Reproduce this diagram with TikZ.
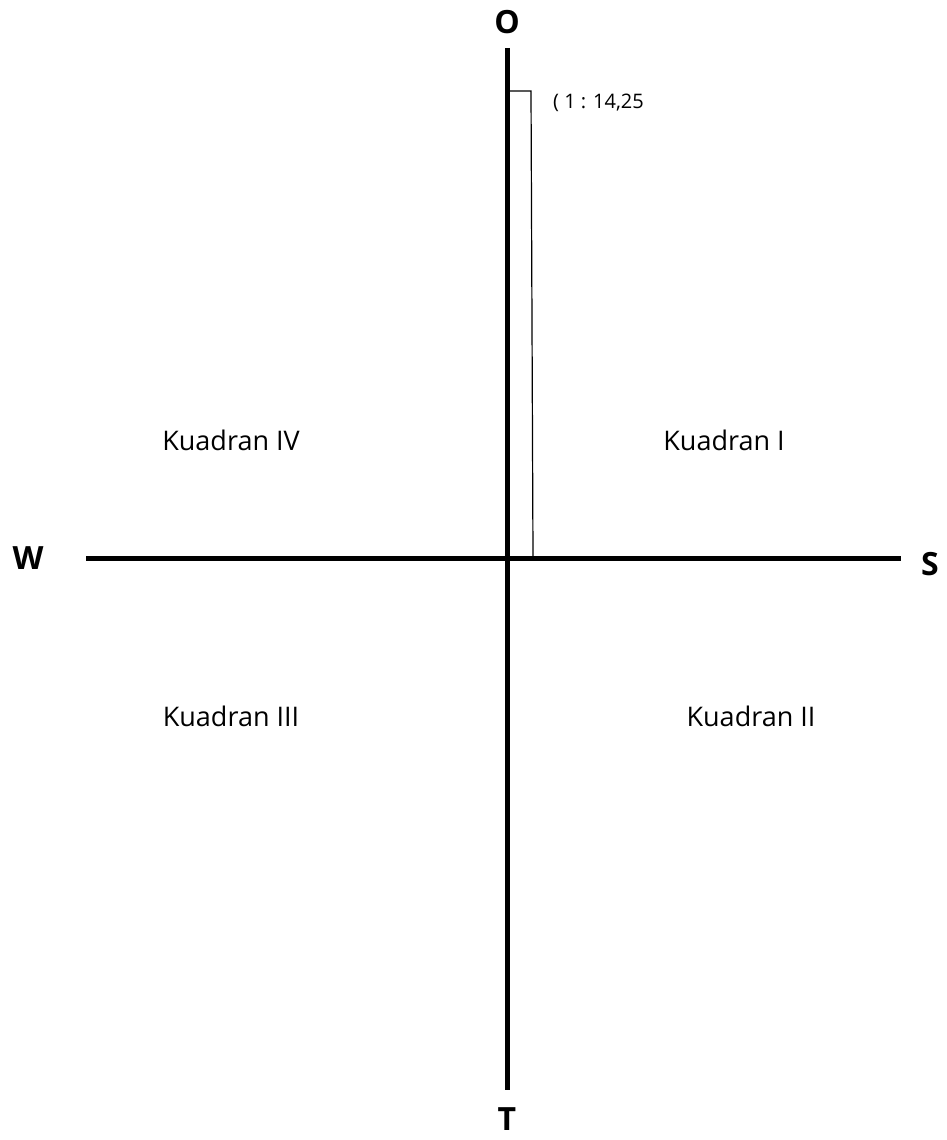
\documentclass[tikz,border=0pt]{standalone}
\usepackage{fontspec}
\setmainfont{Open Sans}
\begin{document}
\begin{tikzpicture}[x=1pt,y=-1pt,
  axis/.style={line width=5pt},
  thin/.style={line width=1.2pt},
  dir/.style={font=\fontsize{32}{36}\selectfont\bfseries, inner sep=0pt},
  quad/.style={font=\fontsize{27}{30}\selectfont, inner sep=0pt},
  note/.style={font=\fontsize{20}{22}\selectfont, inner sep=0pt, anchor=west}]
\useasboundingbox (0,0) rectangle (946,1140);
\coordinate (top) at (507,48);
\coordinate (bot) at (507,1090);
\coordinate (left) at (86,558);
\coordinate (right) at (901,558);
\coordinate (rtl) at (507,91);
\coordinate (rtr) at (531,91);
\coordinate (rbr) at (533,556);
\draw[axis] (top) -- (bot);
\draw[axis] (left) -- (right);
\draw[thin] (rtl) -- (rtr) -- (rbr);
\node[dir] (O) at (507,22) {O};
\node[dir] (T) at (507,1119) {T};
\node[dir] (W) at (28,558) {W};
\node[dir] (S) at (930,564) {S};
\node[note] (ratio) at (553,103) {( 1 : 14,25};
\node[quad] (q4) at (231,440) {Kuadran IV};
\node[quad] (q1) at (724,440) {Kuadran I};
\node[quad] (q3) at (231,716) {Kuadran III};
\node[quad] (q2) at (751,716) {Kuadran II};
\end{tikzpicture}
\end{document}
